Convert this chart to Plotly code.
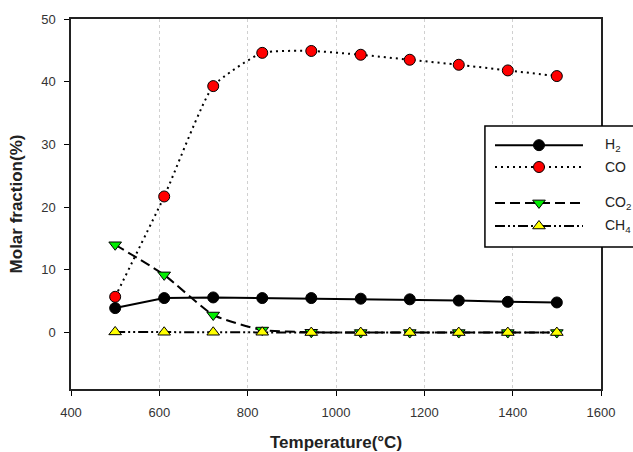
import plotly.graph_objects as go

temperature = [500, 611, 722, 833, 944, 1056, 1167, 1278, 1389, 1500]
h2 = [3.9, 5.5, 5.6, 5.5, 5.5, 5.4, 5.3, 5.1, 4.9, 4.8]
co = [5.7, 21.7, 39.3, 44.6, 44.9, 44.3, 43.5, 42.7, 41.8, 40.9]
co2 = [14.0, 9.2, 2.8, 0.4, 0.05, 0.0, 0.0, 0.0, 0.0, 0.0]
ch4 = [0.1, 0.05, 0.05, 0.05, 0.0, 0.0, 0.0, 0.0, 0.0, 0.0]

legend_labels = ["H<sub>2</sub>", "CO", "CO<sub>2</sub>", "CH<sub>4</sub>"]

FONT = "Liberation Sans, Arial, sans-serif"
mk_line = dict(color="black", width=1)

fig = go.Figure()
fig.add_trace(go.Scatter(x=temperature, y=co, mode="lines+markers", name="CO",
                         line=dict(color="black", width=2, dash="2px,4px", shape="spline", smoothing=0.5),
                         marker=dict(symbol="circle", size=11, color="#ff0000", line=mk_line)))
fig.add_trace(go.Scatter(x=temperature, y=h2, mode="lines+markers", name="H2",
                         line=dict(color="black", width=2),
                         marker=dict(symbol="circle", size=11, color="black", line=mk_line)))
fig.add_trace(go.Scatter(x=temperature, y=co2, mode="lines+markers", name="CO2",
                         line=dict(color="black", width=2, dash="10px,5px", shape="spline", smoothing=0.5),
                         marker=dict(symbol="triangle-down", size=11, color="#00ee00", line=mk_line)))
fig.add_trace(go.Scatter(x=temperature, y=ch4, mode="lines+markers", name="CH4",
                         line=dict(color="black", width=2, dash="10px,3px,2px,3px,2px,3px"),
                         marker=dict(symbol="triangle-up", size=11, color="#ffff00", line=mk_line)))

# custom legend (paper coordinates)
shapes = []
annotations = []
shapes.append(dict(type="rect", xref="paper", yref="paper", x0=0.781, x1=1.08, y0=0.384, y1=0.711,
                   line=dict(color="black", width=1.5), fillcolor="white", layer="above"))
rows = [0.659, 0.600, 0.503, 0.4405]
dashes = ["solid", "2px,4px", "10px,5px", "10px,3px,2px,3px,2px,3px"]
fills = ["black", "#ff0000", "#00ee00", "#ffff00"]
kinds = ["circle", "circle", "down", "up"]
for yy, d, f, k, lab in zip(rows, dashes, fills, kinds, legend_labels):
    shapes.append(dict(type="line", xref="paper", yref="paper", x0=0.800, x1=0.966, y0=yy, y1=yy,
                       line=dict(color="black", width=2, dash=d), layer="above"))
    base = dict(xref="paper", yref="paper", xsizemode="pixel", ysizemode="pixel",
                xanchor=0.883, yanchor=yy, fillcolor=f, line=dict(color="black", width=1), layer="above")
    if k == "circle":
        shapes.append(dict(type="circle", x0=-5.5, x1=5.5, y0=-5.5, y1=5.5, **base))
    elif k == "up":
        shapes.append(dict(type="path", path="M-6.35,-2.75 L6.35,-2.75 L0,5.5 Z", **base))
    else:
        shapes.append(dict(type="path", path="M-6.35,2.75 L6.35,2.75 L0,-5.5 Z", **base))
    annotations.append(dict(xref="paper", yref="paper", x=1.004, y=yy, xanchor="left", yanchor="middle",
                            text=lab, showarrow=False, font=dict(family=FONT, size=14, color="#222")))

fig.update_layout(
    width=633, height=452,
    margin=dict(l=71, r=32, t=19, b=63),
    paper_bgcolor="white", plot_bgcolor="white",
    showlegend=False,
    font=dict(family=FONT, size=13, color="#222"),
    shapes=shapes, annotations=annotations,
)
fig.update_xaxes(range=[400, 1600], tick0=400, dtick=200, ticks="outside", ticklen=5,
                 tickcolor="black", showline=True, linecolor="#222", linewidth=1.5, mirror=True,
                 showgrid=True, gridcolor="#d0d0d0", griddash="dot", gridwidth=1, zeroline=False,
                 tickfont=dict(size=13, color="#333"), ticklabelstandoff=6, automargin=False,
                 title=dict(text="<b>Temperature(°C)</b>", font=dict(size=17, color="#222"), standoff=20))
fig.update_yaxes(range=[-9, 50], tick0=0, dtick=10, ticks="outside", ticklen=5,
                 tickcolor="black", showline=True, linecolor="#222", linewidth=1.5, mirror=True,
                 showgrid=False, zeroline=False, automargin=False,
                 tickfont=dict(size=13, color="#333"), ticklabelstandoff=6,
                 title=dict(text="<b>Molar fraction(%)</b>", font=dict(size=17, color="#222"), standoff=14))

fig.write_html("out.html")
